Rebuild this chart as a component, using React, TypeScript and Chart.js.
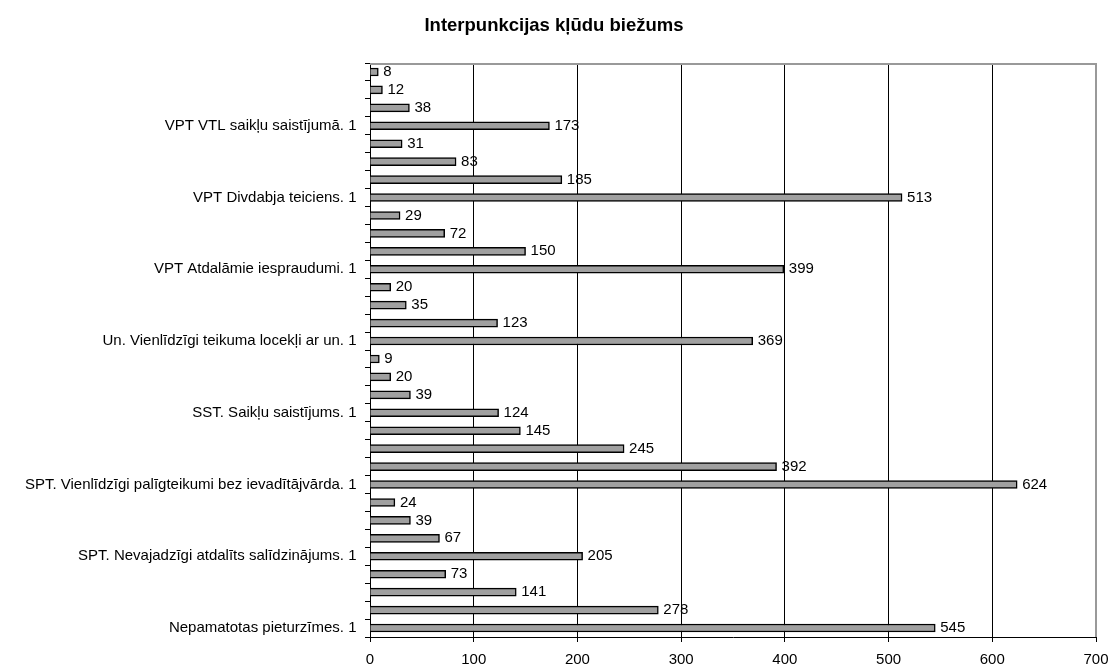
import React, { useEffect, useRef } from 'react';
import { Chart, registerables } from 'chart.js';

Chart.register(...registerables);

const TITLE = 'Interpunkcijas kļūdu biežums';

// categories listed from bottom to top
const CATEGORIES = [
  'Nepamatotas pieturzīmes. 1', '', '', '',
  'SPT. Nevajadzīgi atdalīts salīdzinājums. 1', '', '', '',
  'SPT. Vienlīdzīgi palīgteikumi bez ievadītājvārda. 1', '', '', '',
  'SST. Saikļu saistījums. 1', '', '', '',
  'Un. Vienlīdzīgi teikuma locekļi ar un. 1', '', '', '',
  'VPT Atdalāmie iespraudumi. 1', '', '', '',
  'VPT Divdabja teiciens. 1', '', '', '',
  'VPT VTL saikļu saistījumā. 1', '', '', '',
];

const VALUES = [
  545, 278, 141, 73,
  205, 67, 39, 24,
  624, 392, 245, 145,
  124, 39, 20, 9,
  369, 123, 35, 20,
  399, 150, 72, 29,
  513, 185, 83, 31,
  173, 38, 12, 8,
];

const X_MIN = 0;
const X_MAX = 700;
const X_STEP = 100;

const FONT = '"Liberation Sans", Arial, Helvetica, sans-serif';

export default function App() {
  const ref = useRef<HTMLCanvasElement>(null);

  useEffect(() => {
    if (!ref.current) return;

    const valueLabels = {
      id: 'valueLabels',
      afterDatasetsDraw(chart: any) {
        const ctx = chart.ctx;
        const meta = chart.getDatasetMeta(0);
        ctx.save();
        ctx.font = `15px ${FONT}`;
        ctx.fillStyle = '#000';
        ctx.textAlign = 'left';
        ctx.textBaseline = 'middle';
        meta.data.forEach((bar: any, i: number) => {
          const p = bar.getProps(['x', 'y'], true);
          ctx.fillText(String(VALUES[i]), p.x + 5, p.y);
        });
        ctx.restore();
      },
    };

    const frame = {
      id: 'frame',
      beforeDatasetsDraw(chart: any) {
        const { ctx, chartArea } = chart;
        ctx.save();
        ctx.strokeStyle = '#999999';
        ctx.lineWidth = 2;
        ctx.beginPath();
        ctx.moveTo(chartArea.left, chartArea.top + 1);
        ctx.lineTo(chartArea.right + 1, chartArea.top + 1);
        ctx.moveTo(chartArea.right + 0, chartArea.top);
        ctx.lineTo(chartArea.right + 0, chartArea.bottom);
        ctx.stroke();
        ctx.restore();
      },
    };

    const chart = new Chart(ref.current, {
      type: 'bar',
      data: {
        labels: CATEGORIES,
        datasets: [
          {
            data: VALUES,
            backgroundColor: '#a0a0a0',
            borderColor: '#000000',
            borderWidth: 1.5,
            barThickness: 8,
          },
        ],
      },
      options: {
        indexAxis: 'y',
        animation: false,
        responsive: false,
        maintainAspectRatio: false,
        layout: { padding: { left: 12, right: 13, top: 0, bottom: 0 } },
        plugins: {
          legend: { display: false },
          tooltip: { enabled: false },
          title: {
            display: true,
            text: TITLE,
            color: '#000',
            font: { family: FONT, size: 18.5, weight: 'bold' },
            padding: { top: 14.5, bottom: 26.3 },
          },
        },
        scales: {
          x: {
            type: 'linear',
            position: 'bottom',
            min: X_MIN,
            max: X_MAX,
            ticks: {
              stepSize: X_STEP,
              color: '#000',
              font: { family: FONT, size: 15 },
              padding: 9,
              maxRotation: 0,
            },
            grid: {
              color: (c: any) => (c.tick && c.tick.value === X_MAX ? 'rgba(0,0,0,0)' : '#000'),
              tickColor: '#000',
              tickLength: 5,
              lineWidth: 1,
            },
            border: { color: '#000', width: 1 },
            afterFit: (s: any) => {
              s.height = 29;
              s.paddingRight = 0;
              s.paddingLeft = 0;
            },
          },
          y: {
            reverse: true,
            ticks: {
              autoSkip: false,
              color: '#000',
              font: { family: FONT, size: 15 },
              padding: 8.5,
            },
            grid: {
              drawOnChartArea: false,
              color: '#000',
              tickLength: 5,
              offset: true,
            },
            border: { color: '#000', width: 1 },
            afterFit: (s: any) => {
              s.width = 358;
            },
          },
        },
      },
      plugins: [frame, valueLabels],
    } as any);

    return () => chart.destroy();
  }, []);

  return (
    <div style={{ position: 'fixed', left: 0, top: 0, width: 1109, height: 666, background: '#fff' }}>
      <canvas ref={ref} width={1109} height={666} style={{ display: 'block' }} />
    </div>
  );
}
